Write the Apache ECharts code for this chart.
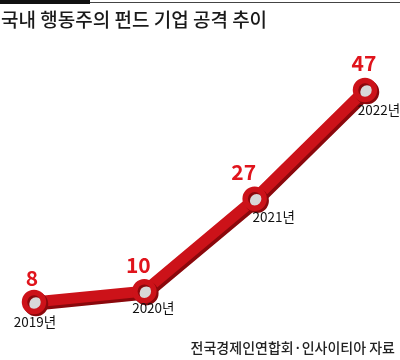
<!DOCTYPE html>
<html><head><meta charset="utf-8">
<script src="https://cdn.jsdelivr.net/npm/echarts@6/dist/echarts.min.js"></script>
<style>html,body{margin:0;padding:0;background:#fff}#c{width:400px;height:360px}</style>
</head><body><div id="c"></div>
<script>
const titleText = '국내 행동주의 펀드 기업 공격 추이';
const sourceText = '전국경제인연합회·인사이티아 자료';
const categories = ['2019년', '2020년', '2021년', '2022년'];
const values = [8, 10, 27, 47];

const valueOffsets = [[-2, -24], [-6, -26], [-11, -27], [-1, -27]];
const yearOffsets = [[1, 20], [9, 17], [19, 18], [14, 20]];
const FONT = '"Noto Sans CJK KR", "Noto Sans", sans-serif';
const RED = '#cc1219';
const DARK = '#8a080c';

const chart = echarts.init(document.getElementById('c'), null, {renderer: 'canvas'});
chart.setOption({
  animation: false,
  grid: {left: 34, right: 35, top: 73.7, bottom: 14.5},
  xAxis: {type: 'category', data: categories, boundaryGap: false, show: false},
  yAxis: {type: 'value', min: 0, max: 50, show: false},
  graphic: [
    {type: 'rect', shape: {x: 0, y: 0, width: 90, height: 4}, style: {fill: '#111'}},
    {type: 'rect', shape: {x: 90, y: 2, width: 310, height: 1}, style: {fill: '#444'}},
    {type: 'text', left: 1, top: 10, style: {text: titleText, font: '500 19px ' + FONT, fill: '#1a1a1a'}},
    {type: 'text', right: 5, top: 341, style: {text: sourceText, font: '500 14px ' + FONT, fill: '#222'}}
  ],
  series: [
    {
      type: 'line',
      data: values.map((v, i) => ({value: v, label: {offset: valueOffsets[i]}})),
      symbol: 'circle',
      symbolSize: 19,
      lineStyle: {width: 11, color: RED, shadowColor: DARK, shadowOffsetX: 2, shadowOffsetY: 3, shadowBlur: 0, cap: 'round', join: 'round'},
      itemStyle: {color: '#d8d8d8', borderColor: RED, borderWidth: 5.5, shadowColor: DARK, shadowOffsetX: 2, shadowOffsetY: 2, shadowBlur: 0},
      label: {show: true, position: 'inside', color: '#e0141c', fontFamily: FONT, fontWeight: 'bold', fontSize: 21},
      z: 3
    },
    {
      type: 'line',
      data: values.map((v, i) => ({value: v, label: {offset: yearOffsets[i]}})),
      symbol: 'circle',
      symbolSize: 1,
      showSymbol: true,
      itemStyle: {color: 'rgba(0,0,0,0)'},
      lineStyle: {opacity: 0},
      label: {show: true, position: 'inside', formatter: p => categories[p.dataIndex], color: '#111', fontFamily: FONT, fontSize: 13.5},
      z: 4
    }
  ]
});
</script></body></html>
